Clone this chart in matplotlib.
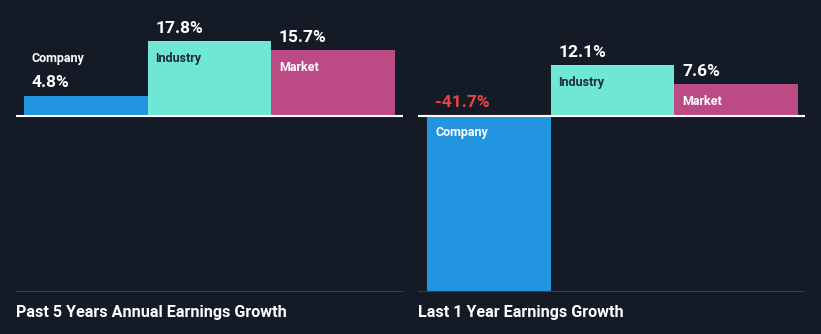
import matplotlib.pyplot as plt

categories = ['Company', 'Industry', 'Market']
past_5y = [4.8, 17.8, 15.7]
last_1y = [-41.7, 12.1, 7.6]
titles = ['Past 5 Years Annual Earnings Growth', 'Last 1 Year Earnings Growth']

bg = '#151b26'
colors = ['#2394df', '#6ee8d5', '#bb4a85']
label_colors = ['white', '#1f2a33', 'white']

plt.rcParams['font.family'] = ['Roboto', 'DejaVu Sans']

W, H = 821, 334
fig = plt.figure(figsize=(W / 100, H / 100), dpi=100)
fig.patch.set_facecolor(bg)


def panel(x0, x1, bar_left, values, title):
    # axes spans from top of figure to the grey line at y=292
    ax = fig.add_axes([x0 / W, (H - 292) / H, (x1 - x0) / W, 292 / H])
    ax.set_facecolor(bg)
    unit = 123.5
    ax.set_xlim((x0 - bar_left) / unit, (x1 - bar_left) / unit)
    scale = 4.2
    ax.set_ylim(-176 / scale, 116 / scale)
    ax.bar(range(3), values, width=1, align='edge', color=colors)
    ax.axhline(0, color='white', lw=1.5)
    ax.axhline(-176 / scale, color='#3d4350', lw=2)
    for i, v in enumerate(values):
        xl = i + 8 / unit
        vcol = '#e64545' if v < 0 else 'white'
        base = v
        if v < 0:
            val_off, lab_off = 13, -17
            base = 0
        elif v < 8 and i == 0:
            val_off, lab_off = 13, 37
        else:
            val_off, lab_off = 13, -17
        ax.annotate(f'{v}%', (xl, base), xytext=(0, val_off), textcoords='offset pixels',
                    ha='left', va='center', color=vcol, fontsize=12.5, fontweight='bold')
        ax.annotate(categories[i], (xl, base), xytext=(0, lab_off), textcoords='offset pixels',
                    ha='left', va='center', color=label_colors[i], fontsize=9, fontweight='bold')
    ax.axis('off')
    fig.text(x0 / W, 1 - 312 / H, title, ha='left', va='center', color='white',
             fontsize=11.6, fontweight='bold')


panel(16, 403, 24, past_5y, titles[0])
panel(418, 805, 427, last_1y, titles[1])

fig.savefig('out.png', dpi=100, facecolor=bg)
